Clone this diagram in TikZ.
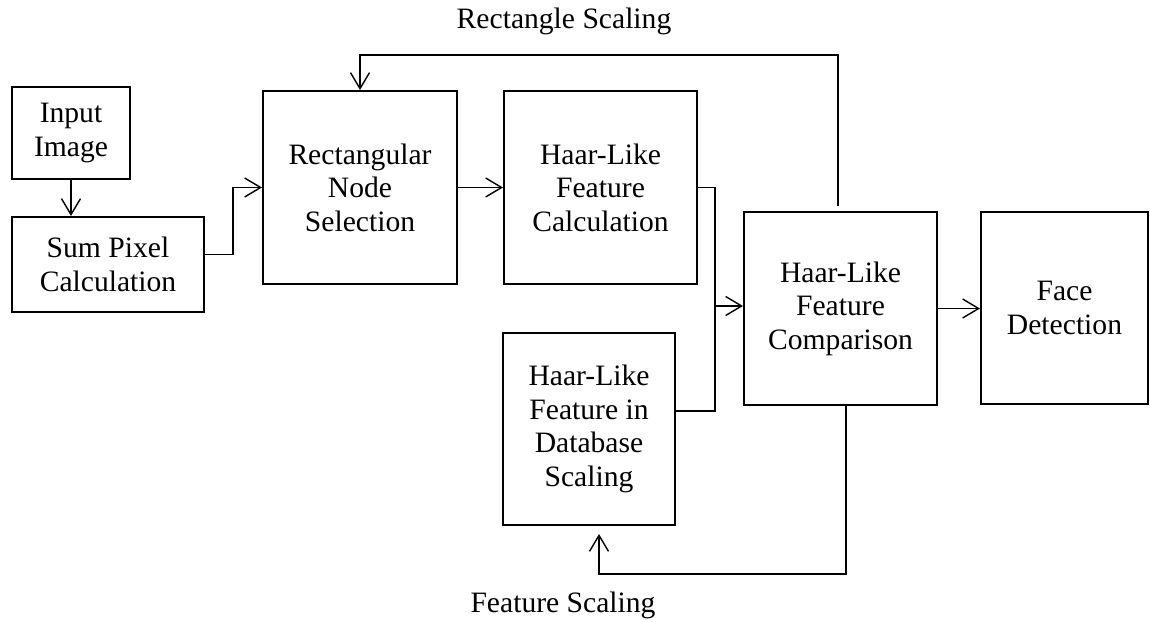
\documentclass[tikz,border=0pt]{standalone}
\usepackage{fontspec}
\setmainfont{Liberation Serif}
\usetikzlibrary{arrows.meta}

\begin{document}
\begin{tikzpicture}[x=0.5pt,y=-0.5pt,
  box/.style={draw, line width=1pt, align=center, inner sep=0pt,
    font=\fontsize{14.8}{16.8}\selectfont},
  arr/.style={-{Straight Barb[length=8pt,width=9.5pt]}, line width=0.7pt},
  lnk/.style={line width=0.7pt}]
\useasboundingbox (0,0) rectangle (1150,621);

\node[box, minimum width=59pt, minimum height=46pt] (input) at (71,133) {Input\\Image};
\node[box, minimum width=96pt, minimum height=47.5pt] (sum) at (108,264.5) {Sum Pixel\\Calculation};
\node[box, minimum width=97pt, minimum height=96.5pt] (rect) at (360,187.5) {Rectangular\\Node\\Selection};
\node[box, minimum width=96.5pt, minimum height=96.5pt] (haarcalc) at (600.5,187.5) {Haar-Like\\Feature\\Calculation};
\node[box, minimum width=86pt, minimum height=96pt] (haardb) at (589,429) {Haar-Like\\Feature in\\Database\\Scaling};
\node[box, minimum width=96.5pt, minimum height=96.5pt] (compare) at (840.5,308.5) {Haar-Like\\Feature\\Comparison};
\node[box, minimum width=83.5pt, minimum height=96pt] (face) at (1064.5,308) {Face\\Detection};

\node[font=\fontsize{14.8}{17}\selectfont] (rscale) at (564,21) {Rectangle Scaling};
\node[font=\fontsize{14.8}{17}\selectfont] (fscale) at (563,605) {Feature Scaling};

\coordinate (top) at (838,55);
\coordinate (bot) at (846,574);
\coordinate (merge) at (715,306);

\draw[arr] (input.south) -- (input.south |- sum.north);
\draw[arr] ([yshift=5pt]sum.east) -- ++(28,0) |- (rect.west);
\draw[arr] (rect.east) -- (haarcalc.west);
\draw[lnk] (haarcalc.east) -| (merge) |- ([yshift=9pt]haardb.east);
\draw[arr] (merge) -- (merge -| compare.west);
\draw[arr] (compare.east) -- (compare.east -| face.west);
% feedback loops
\draw[arr] ([xshift=-1.25pt,yshift=2.5pt]compare.north) -- (top) -| (rect.north);
\draw[arr] ([xshift=2.75pt]compare.south) -- (bot) -| ([xshift=5pt,yshift=-4pt]haardb.south);
\end{tikzpicture}
\end{document}
